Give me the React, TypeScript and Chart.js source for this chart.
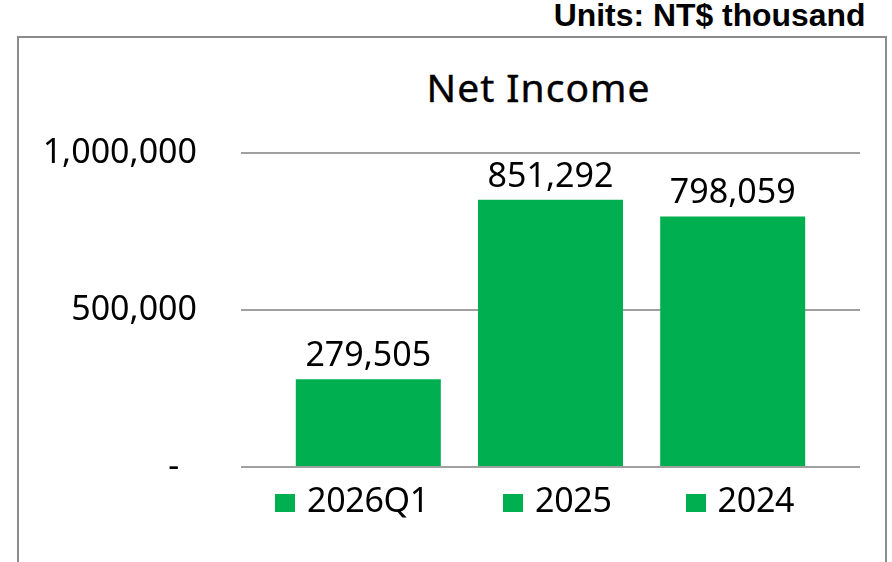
import React, { useEffect, useRef } from 'react';
import { Chart, registerables } from 'chart.js';

Chart.register(...registerables);

const categories = [''];
const seriesLabels = ['2026Q1', '2025', '2024'];
const seriesValues = [279505, 851292, 798059];
const yTickValues = [0, 500000, 1000000];
const yTickLabels = ['-  ', '500,000', '1,000,000'];
const barColor = '#00B050';
const chartTitle = 'Net Income';
const unitsText = 'Units: NT$ thousand';

const dataLabelPlugin = {
  id: 'dataLabels',
  afterDatasetsDraw(chart: any) {
    const ctx = chart.ctx;
    ctx.save();
    ctx.font = '34px "Noto Sans"';
    ctx.fillStyle = '#000';
    ctx.textAlign = 'center';
    ctx.textBaseline = 'alphabetic';
    chart.data.datasets.forEach((ds: any, i: number) => {
      const meta = chart.getDatasetMeta(i);
      meta.data.forEach((el: any, j: number) => {
        const v = ds.data[j] as number;
        ctx.fillText(v.toLocaleString('en-US'), el.x, el.y - 13);
      });
    });
    ctx.restore();
  },
};

export default function App() {
  const canvasRef = useRef<HTMLCanvasElement | null>(null);

  useEffect(() => {
    if (!canvasRef.current) return;
    const chart = new Chart(canvasRef.current, {
      type: 'bar',
      data: {
        labels: categories,
        datasets: seriesLabels.map((label, i) => ({
          label,
          data: [seriesValues[i]],
          backgroundColor: barColor,
          borderWidth: 0,
          categoryPercentage: 0.883,
          barPercentage: 0.796,
        })),
      },
      options: {
        responsive: false,
        animation: false,
        layout: { padding: { left: 20, right: 32, top: 153, bottom: 95 } },
        plugins: {
          legend: { display: false },
          title: { display: false },
          tooltip: { enabled: false },
        },
        scales: {
          x: { display: false },
          y: {
            min: 0,
            max: 1000000,
            afterBuildTicks(scale: any) {
              scale.ticks = yTickValues.map((v) => ({ value: v }));
            },
            afterFit(scale: any) {
              scale.width = 221;
            },
            ticks: {
              padding: 44,
              color: '#000',
              font: { family: 'Noto Sans', size: 34 },
              callback: (v: any) => yTickLabels[yTickValues.indexOf(Number(v))],
            },
            grid: { color: '#a0a0a0', lineWidth: 2, drawTicks: false },
            border: { display: false },
          },
        },
      },
      plugins: [dataLabelPlugin],
    });
    return () => chart.destroy();
  }, []);

  return (
    <div style={{ position: 'absolute', left: 0, top: 0, width: 892, height: 562, overflow: 'hidden', background: '#fff' }}>
      <div style={{ position: 'absolute', left: 17, top: 36, width: 866, height: 600, border: '2px solid #8c8c8c' }} />
      <div
        style={{
          position: 'absolute', right: 26, top: 2, lineHeight: '29px', fontSize: 29,
          fontFamily: '"Liberation Sans", Arial, sans-serif', fontWeight: 'bold', color: '#000',
          whiteSpace: 'nowrap', transform: 'scale(1.1, 1.05)', transformOrigin: 'right center',
        }}
      >
        {unitsText}
      </div>
      <div
        style={{
          position: 'absolute', left: 538.5, top: 67, transform: 'translateX(-50%)', lineHeight: '39px',
          fontSize: 39, fontFamily: '"Noto Sans", sans-serif', color: '#000', whiteSpace: 'nowrap', letterSpacing: 1,
          WebkitTextStroke: '0.4px #000',
        }}
      >
        {chartTitle}
      </div>
      <canvas ref={canvasRef} width={892} height={562} style={{ position: 'absolute', left: 0, top: 0, width: 892, height: 562 }} />
      <div
        style={{
          position: 'absolute', left: 275, top: 482, display: 'flex', gap: 74, alignItems: 'baseline',
          fontFamily: '"Noto Sans", sans-serif', fontSize: 34, lineHeight: '34px', color: '#000', whiteSpace: 'nowrap',
          letterSpacing: -0.3,
        }}
      >
        {seriesLabels.map((l) => (
          <span key={l} style={{ display: 'inline-flex', alignItems: 'baseline' }}>
            <span style={{ display: 'inline-block', width: 20, height: 18, background: barColor, marginRight: 12 }} />
            <span>{l}</span>
          </span>
        ))}
      </div>
    </div>
  );
}
